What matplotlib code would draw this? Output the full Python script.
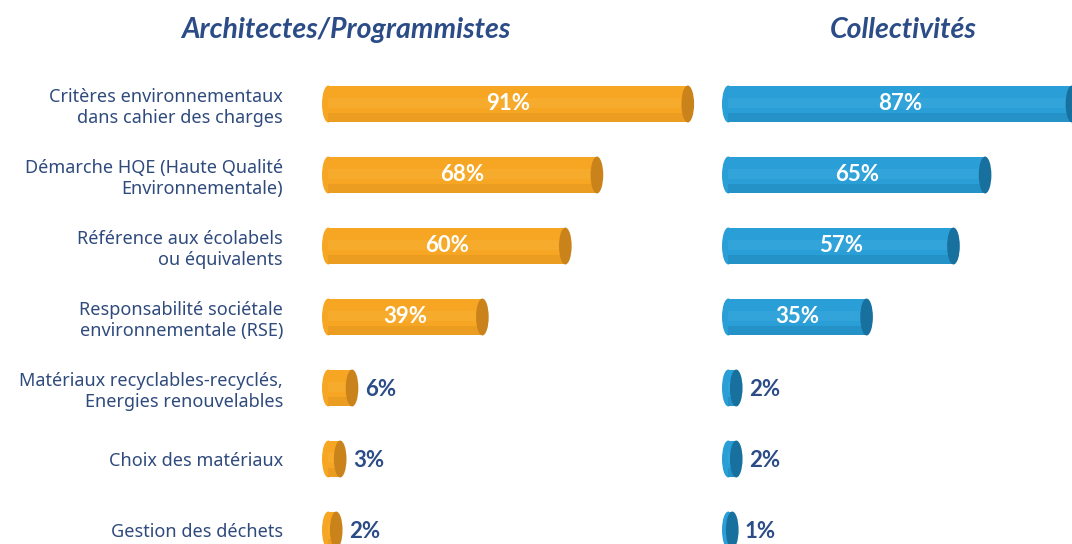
import matplotlib
matplotlib.use("Agg")
import matplotlib.pyplot as plt
from matplotlib.patches import Ellipse, Rectangle

categories = [
    "Critères environnementaux\ndans cahier des charges",
    "Démarche HQE (Haute Qualité\nEnvironnementale)",
    "Référence aux écolabels\nou équivalents",
    "Responsabilité sociétale\nenvironnementale (RSE)",
    "Matériaux recyclables-recyclés,\nEnergies renouvelables",
    "Choix des matériaux",
    "Gestion des déchets",
]
archi_values = [91, 68, 60, 39, 6, 3, 2]
collect_values = [87, 65, 57, 35, 2, 2, 1]
panel_titles = ["Architectes/Programmistes", "Collectivités"]

W, H = 1072, 544
fig = plt.figure(figsize=(W / 100, H / 100), dpi=100)
fig.patch.set_facecolor("white")

PX_PER_PCT = 3.95
ROW = 71.0
TOP = 60
FIRST = 104
NAVY = "#2B4C86"
TEXTC = "#2F4A7C"
FONT = ["Noto Sans", "DejaVu Sans"]
BOLD = ["Lato", "DejaVu Sans"]

def make_ax(left_px, right_px):
    ax = fig.add_axes([left_px / W, 0, (right_px - left_px) / W, (H - TOP) / H])
    ax.set_xlim(0, (right_px - left_px) / PX_PER_PCT)
    ax.set_ylim((H - FIRST) / ROW, -(FIRST - TOP) / ROW)
    for s in ax.spines.values():
        s.set_visible(False)
    ax.set_xticks([])
    ax.patch.set_alpha(0)
    return ax

def draw_bars(ax, values, body, dark, light):
    e = 1.6
    h = 0.52
    for i, v in enumerate(values):
        ax.add_patch(Ellipse((e, i), 2 * e, h, color=body, zorder=2, lw=0))
        ax.add_patch(Rectangle((e, i - h / 2), v, h, color=body, zorder=2, lw=0))
        ax.add_patch(Rectangle((e, i + h * 0.25), v, h * 0.25, color=dark, alpha=0.25, zorder=3, lw=0))
        ax.add_patch(Rectangle((e, i - h * 0.15), v, h * 0.25, color=light, alpha=0.18, zorder=3, lw=0))
        ax.add_patch(Ellipse((v + e, i), 2 * e, h, color=dark, zorder=4, lw=0))
        if v >= 20:
            ax.text((v + 2 * e) / 2, i, f"{v}%", color="white", fontsize=16, fontweight="bold",
                    ha="center", va="center", family=BOLD, zorder=5)
        else:
            ax.text(v + 2 * e + 1.6, i + 0.02, f"{v}%", color=NAVY, fontsize=16, fontweight="bold",
                    ha="left", va="center", family=BOLD, zorder=5)

axL = make_ax(322, 700)
axR = make_ax(722, 1072)

draw_bars(axL, archi_values, "#F6A623", "#C9831A", "#FFC55A")
draw_bars(axR, collect_values, "#2A9ED6", "#17709E", "#5BC0EC")

axL.set_yticks(range(len(categories)))
axL.set_yticklabels(categories)
axL.tick_params(axis="y", length=0, pad=28)
for lab in axL.get_yticklabels():
    lab.set_fontsize(13)
    lab.set_color(TEXTC)
    lab.set_family(FONT)
    lab.set_linespacing(1.2)
    lab.set_ha("right")
axR.set_yticks([])

fig.text(346 / W, 1 - 30 / H, panel_titles[0], ha="center", va="center", fontsize=20.5,
         fontweight="bold", style="italic", color=NAVY, family=BOLD)
fig.text(903 / W, 1 - 30 / H, panel_titles[1], ha="center", va="center", fontsize=20.5,
         fontweight="bold", style="italic", color=NAVY, family=BOLD)

fig.savefig("out.png", dpi=100, facecolor="white")
